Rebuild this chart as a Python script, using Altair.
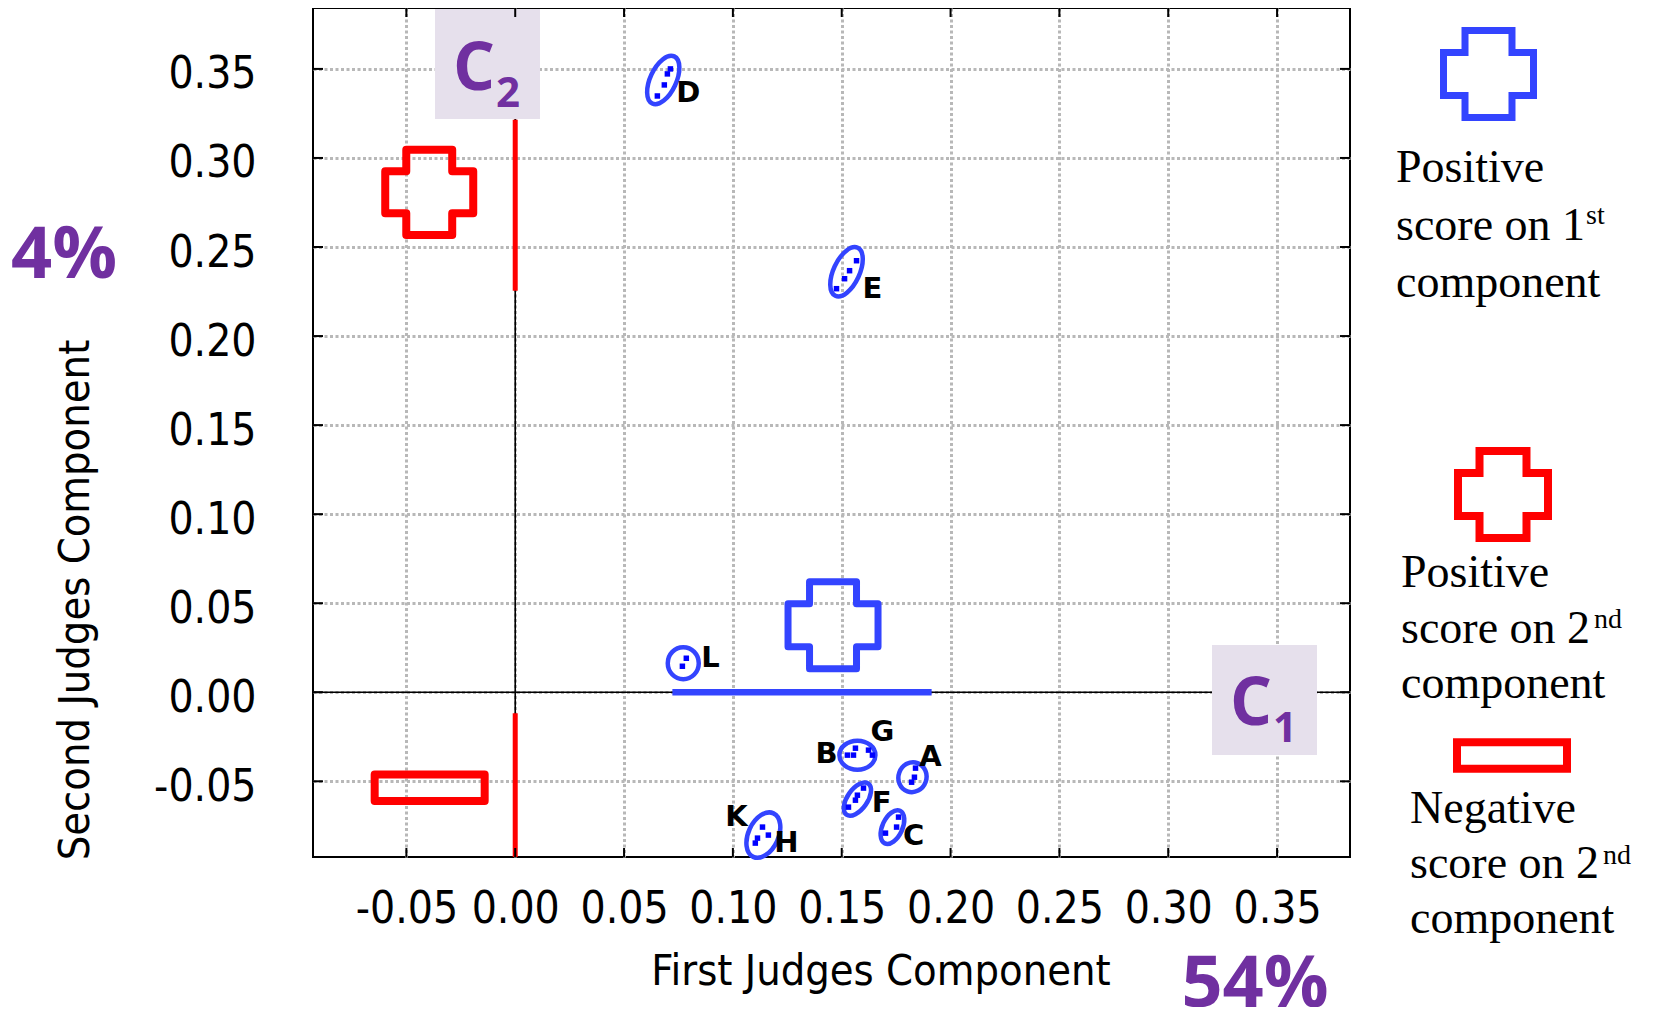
import altair as alt
import pandas as pd

# ---------------- data ----------------
tick_vals = [-0.05, 0.0, 0.05, 0.10, 0.15, 0.20, 0.25, 0.30, 0.35]
x_domain = [-0.0929, 0.3835]
y_domain = [-0.0925, 0.3842]

# judge clusters (confidence ellipses)
clusters = ["D", "E", "L", "BG", "A", "F", "C", "KH"]
cluster_x = [0.0680, 0.1522, 0.0772, 0.1572, 0.1825, 0.1572, 0.1733, 0.1140]
cluster_y = [0.3438, 0.2361, 0.0163, -0.0353, -0.0477, -0.0600, -0.0757, -0.0802]
ell_major = [26, 26.5, 16, 18, 15, 19, 18, 24]      # semi axes (px)
ell_minor = [13, 13, 15.5, 14.5, 14, 10, 10, 15]
ell_angle = [25, 25, 0, 90, 20, 35, 25, 25]

# individual judge points
pt_x = [0.0713, 0.0699, 0.0685, 0.0653,
        0.1568, 0.1536, 0.1513, 0.1476,
        0.0786, 0.0768,
        0.1526, 0.1554, 0.1563, 0.1623, 0.1641,
        0.1839, 0.1834, 0.1821,
        0.1600, 0.1572, 0.1563, 0.1531,
        0.1761, 0.1752, 0.1701,
        0.1136, 0.1163, 0.1113, 0.1103]
pt_y = [0.3500, 0.3472, 0.3410, 0.3348,
        0.2423, 0.2367, 0.2322, 0.2266,
        0.0191, 0.0146,
        -0.0353, -0.0353, -0.0314, -0.0325, -0.0353,
        -0.0426, -0.0477, -0.0505,
        -0.0538, -0.0578, -0.0606, -0.0645,
        -0.0701, -0.0757, -0.0791,
        -0.0757, -0.0802, -0.0819, -0.0847]

# judge group labels
lab_text = ["D", "E", "L", "B", "G", "A", "F", "C", "K", "H"]
lab_x = [0.0795, 0.1641, 0.0897, 0.1430, 0.1687, 0.1908, 0.1683, 0.1830, 0.1016, 0.1246]
lab_y = [0.3366, 0.2266, 0.0191, -0.0348, -0.0224, -0.0365, -0.0623, -0.0808, -0.0701, -0.0847]

# component segments
blue_x1, blue_x2 = [0.0722], [0.1913]
red_y1 = [0.3214, -0.0118]
red_y2 = [0.2255, -0.0925]

# glyph positions in data space
blue_cross_x, blue_cross_y = [0.1460], [0.0376]
red_cross_x, red_cross_y = [-0.0395], [0.2807]
red_rect_x, red_rect_y = [-0.0393], [-0.0536]

# ---------------- styles ----------------
W, H = 1037, 849
SANS = "DejaVu Sans Condensed, DejaVu Sans"
SERIF = "Liberation Serif, Times New Roman, serif"
BOLDF = "Open Sans, Noto Sans, sans-serif"
BLUE = "#3344FF"
DBLUE = "#0000FF"
RED = "#FF0000"
PURPLE = "#7030A0"
LAV = "#E6E0EC"

CROSS = ("M -0.522 -0.967 L 0.522 -0.967 L 0.522 -0.478 L 1 -0.478 L 1 0.478 "
         "L 0.522 0.478 L 0.522 0.967 L -0.522 0.967 L -0.522 0.478 L -1 0.478 "
         "L -1 -0.478 L -0.522 -0.478 Z")
RECT = "M -1 -0.24 L 1 -0.24 L 1 0.24 L -1 0.24 Z"


def ellipse_path(q):
    k = 0.5523
    return (f"M {q:.4f} 0 C {q:.4f} {k:.4f} {k*q:.4f} 1 0 1 "
            f"C {-k*q:.4f} 1 {-q:.4f} {k:.4f} {-q:.4f} 0 "
            f"C {-q:.4f} {-k:.4f} {-k*q:.4f} -1 0 -1 "
            f"C {k*q:.4f} -1 {q:.4f} {-k:.4f} {q:.4f} 0 Z")


xs = alt.Scale(domain=x_domain, nice=False, zero=False)
ys = alt.Scale(domain=y_domain, nice=False, zero=False)
MINUS_FIX = "replace(datum.label, '\u2212', '-')"
xaxis = alt.Axis(values=tick_vals, format=".2f", labelExpr=MINUS_FIX, grid=True,
                 gridColor="#B8B8B8", gridWidth=3, gridDash=[3, 2.5], ticks=False,
                 tickSize=0, domain=False, labelFont=SANS, labelFontSize=44,
                 labelColor="black", labelPadding=30, labelFlush=False,
                 labelOverlap=False, title=None)
yaxis = alt.Axis(values=tick_vals, format=".2f", labelExpr=MINUS_FIX, grid=True,
                 gridColor="#B8B8B8", gridWidth=3, gridDash=[3, 2.5], ticks=False,
                 tickSize=0, domain=False, labelFont=SANS, labelFontSize=44,
                 labelColor="black", labelPadding=57, labelOffset=6,
                 labelFlush=False, labelOverlap=False, title=None)


def X(f="x"):
    return alt.X(f"{f}:Q", scale=xs, axis=xaxis)


def Y(f="y"):
    return alt.Y(f"{f}:Q", scale=ys, axis=yaxis)


one = pd.DataFrame({"a": [0]})


def txt(s, x, y, size, font, color="black", weight="normal", align="center",
        baseline="alphabetic", angle=0):
    return alt.Chart(one).mark_text(
        text=s, fontSize=size, font=font, color=color, fontWeight=weight,
        align=align, baseline=baseline, angle=angle
    ).encode(x=alt.value(x), y=alt.value(y))


def glyph(shape, x, y, size, color, sw):
    return alt.Chart(one).mark_point(
        shape=shape, size=size, filled=False, color=color, strokeWidth=sw,
        opacity=1, strokeJoin="miter"
    ).encode(x=alt.value(x), y=alt.value(y))


def box(x1, x2, y1, y2):
    return alt.Chart(one).mark_rect(color=LAV, opacity=1).encode(
        x=alt.value(x1), x2=alt.value(x2), y=alt.value(y1), y2=alt.value(y2))


layers = []

# grid carrier + zero lines
zero_df = pd.DataFrame({"x": [0.0], "y": [0.0]})
layers.append(alt.Chart(zero_df).mark_rule(color="black", strokeWidth=1.6).encode(x=X()))
layers.append(alt.Chart(zero_df).mark_rule(color="black", strokeWidth=1.6).encode(y=Y()))

# component label boxes
layers += [box(122, 227, 1, 111), box(899, 1004, 637, 747)]
layers += [txt("C", 161, 82, 66, BOLDF, PURPLE, "bold"),
           txt("2", 195, 99, 42, BOLDF, PURPLE, "bold"),
           txt("C", 938, 717, 66, BOLDF, PURPLE, "bold"),
           txt("1", 972, 734, 42, BOLDF, PURPLE, "bold")]

# red segments on 2nd component axis
red_df = pd.DataFrame({"x": [0.0, 0.0], "y": red_y1, "y2": red_y2})
layers.append(alt.Chart(red_df).mark_rule(color=RED, strokeWidth=5).encode(
    x=X(), y=Y(), y2="y2:Q"))
# blue segment on 1st component axis
blue_df = pd.DataFrame({"x": blue_x1, "x2": blue_x2, "y": [0.0]})
layers.append(alt.Chart(blue_df).mark_rule(color=BLUE, strokeWidth=6.5).encode(
    x=X(), x2="x2:Q", y=Y()))

# glyphs in plot
def data_glyph(shape, gx, gy, size, color, sw):
    df = pd.DataFrame({"x": gx, "y": gy})
    return alt.Chart(df).mark_point(
        shape=shape, size=size, filled=False, color=color, strokeWidth=sw,
        opacity=1, strokeJoin="round"
    ).encode(x=X(), y=Y())

layers.append(data_glyph(CROSS, blue_cross_x, blue_cross_y, 8100, BLUE, 7))
layers.append(data_glyph(CROSS, red_cross_x, red_cross_y, 7744, RED, 8))
layers.append(data_glyph(RECT, red_rect_x, red_rect_y, 12100, RED, 8))

# ellipses
ell_df = pd.DataFrame({
    "cluster": clusters, "x": cluster_x, "y": cluster_y,
    "size": [(2 * a) ** 2 for a in ell_major], "angle": ell_angle})
shape_range = [ellipse_path(b / a) for a, b in zip(ell_major, ell_minor)]
layers.append(alt.Chart(ell_df).mark_point(
    filled=False, color=BLUE, strokeWidth=4.5, opacity=1).encode(
    x=X(), y=Y(),
    size=alt.Size("size:Q", scale=None),
    angle=alt.Angle("angle:Q", scale=None),
    shape=alt.Shape("cluster:N", scale=alt.Scale(domain=clusters, range=shape_range),
                    legend=None)))

# judge points
pts_df = pd.DataFrame({"x": pt_x, "y": pt_y})
layers.append(alt.Chart(pts_df).mark_square(size=30, color=DBLUE, opacity=1).encode(
    x=X(), y=Y()))

# labels
lab_df = pd.DataFrame({"x": lab_x, "y": lab_y, "t": lab_text})
layers.append(alt.Chart(lab_df).mark_text(
    font="DejaVu Sans", fontWeight="bold", fontSize=29, color="black",
    baseline="middle", align="center").encode(x=X(), y=Y(), text="t:N"))

# inward ticks on all four sides
tk = pd.DataFrame({"x": tick_vals, "y": tick_vals})
layers.append(alt.Chart(tk).mark_rule(color="black", strokeWidth=2).encode(
    x=X(), y=alt.value(H), y2=alt.value(H - 9)))
layers.append(alt.Chart(tk).mark_rule(color="black", strokeWidth=2).encode(
    x=X(), y=alt.value(0), y2=alt.value(9)))
layers.append(alt.Chart(tk).mark_rule(color="black", strokeWidth=2).encode(
    y=Y(), x=alt.value(0), x2=alt.value(10)))
layers.append(alt.Chart(tk).mark_rule(color="black", strokeWidth=2).encode(
    y=Y(), x=alt.value(W), x2=alt.value(W - 10)))

# axis titles & variance percentages
layers += [txt("First Judges Component", 568, 977, 43, SANS),
           txt("Second Judges Component", -224, 592, 43, SANS, angle=270),
           txt("4%", -249, 270, 72, BOLDF, PURPLE, "bold"),
           txt("54%", 942, 999, 72, BOLDF, PURPLE, "bold")]

# legend glyphs
layers += [glyph(CROSS, 1175.5, 66, 8100, BLUE, 7),
           glyph(CROSS, 1190, 486.5, 8100, RED, 8),
           glyph(RECT, 1199, 747.5, 12100, RED, 8)]

# legend texts
LS = 46
SUP = 28
layers += [txt("Positive", 1083, 174, LS, SERIF, align="left"),
           txt("score on 1", 1083, 232, LS, SERIF, align="left"),
           txt("st", 1273, 216, SUP, SERIF, align="left"),
           txt("component", 1083, 289, LS, SERIF, align="left"),
           txt("Positive", 1088, 579, LS, SERIF, align="left"),
           txt("score on 2", 1088, 635, LS, SERIF, align="left"),
           txt("nd", 1281, 620, SUP, SERIF, align="left"),
           txt("component", 1088, 690, LS, SERIF, align="left"),
           txt("Negative", 1097, 815, LS, SERIF, align="left"),
           txt("score on 2", 1097, 870, LS, SERIF, align="left"),
           txt("nd", 1290, 856, SUP, SERIF, align="left"),
           txt("component", 1097, 925, LS, SERIF, align="left")]

chart = alt.layer(*layers).properties(
    width=W, height=H,
    autosize=alt.AutoSizeParams(type="none"),
    padding={"left": 305, "top": 0, "right": 298, "bottom": 150},
).configure_view(stroke="black", strokeWidth=2)

chart.save("out.html", embed_options={"renderer": "svg", "actions": False})
